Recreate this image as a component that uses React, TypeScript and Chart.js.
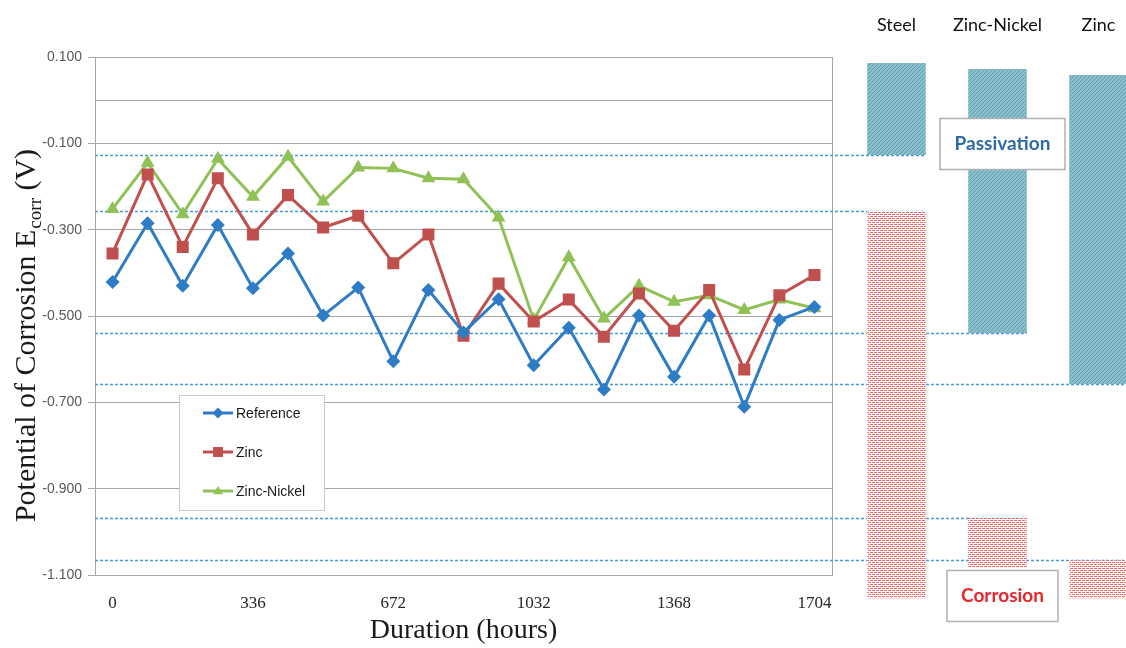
import React, { useEffect, useRef } from 'react';
import { Chart, registerables } from 'chart.js';

Chart.register(...registerables);

// ---------- data ----------
const HOURS = [0, 84, 168, 252, 336, 420, 504, 588, 672, 762, 852, 942, 1032, 1116, 1200, 1284, 1368, 1452, 1536, 1620, 1704];
const X_TICK_LABELS = [0, 336, 672, 1032, 1368, 1704];
const Y_TICKS = [0.1, -0.1, -0.3, -0.5, -0.7, -0.9, -1.1];
const Y_ZERO_LINE = 0;

const REFERENCE = [-0.421, -0.285, -0.430, -0.289, -0.436, -0.355, -0.499, -0.434, -0.605, -0.440, -0.538, -0.461, -0.614, -0.527, -0.670, -0.499, -0.641, -0.499, -0.710, -0.509, -0.479];
const ZINC = [-0.355, -0.172, -0.340, -0.181, -0.311, -0.220, -0.295, -0.268, -0.378, -0.311, -0.546, -0.425, -0.513, -0.462, -0.548, -0.448, -0.534, -0.440, -0.624, -0.452, -0.405];
const ZINC_NICKEL = [-0.252, -0.145, -0.264, -0.136, -0.224, -0.131, -0.235, -0.156, -0.158, -0.181, -0.183, -0.272, -0.509, -0.364, -0.506, -0.430, -0.467, -0.452, -0.486, -0.462, -0.482];

const COATINGS = ['Steel', 'Zinc-Nickel', 'Zinc'];
const PASSIVATION: [number, number][] = [[0.086, -0.127], [0.072, -0.540], [0.058, -0.658]];
const CORROSION: [number, number][] = [[-0.257, -1.154], [-0.968, -1.084], [-1.066, -1.154]];

// ---------- styles ----------
const BLUE = '#2f7cc6';
const RED = '#c0504d';
const GREEN = '#8fc157';
const GRID = '#a6a6a6';
const DASH = '#4a9ad8';

const THRESHOLDS = COATINGS.flatMap((_, i) => [
  { v: PASSIVATION[i][1], i },
  { v: CORROSION[i][0], i },
]);

function drawMarker(ctx: CanvasRenderingContext2D, style: string, x: number, y: number, r: number, color: string) {
  ctx.save();
  ctx.fillStyle = color;
  ctx.beginPath();
  if (style === 'rectRot') {
    ctx.moveTo(x, y - r);
    ctx.lineTo(x + r, y);
    ctx.lineTo(x, y + r);
    ctx.lineTo(x - r, y);
  } else if (style === 'rect') {
    const s = r * Math.SQRT1_2;
    ctx.rect(x - s, y - s, 2 * s, 2 * s);
  } else {
    const h = r * 1.5;
    ctx.moveTo(x, y - h * 0.62);
    ctx.lineTo(x + r * 0.9, y + h * 0.38);
    ctx.lineTo(x - r * 0.9, y + h * 0.38);
  }
  ctx.closePath();
  ctx.fill();
  ctx.restore();
}

function makePattern(kind: 'pass' | 'corr'): CanvasPattern | string {
  const c = document.createElement('canvas');
  c.width = 4;
  c.height = 4;
  const g = c.getContext('2d');
  if (!g) return kind === 'pass' ? '#80b6c5' : '#f8c4c4';
  if (kind === 'pass') {
    g.fillStyle = '#8bbfcc';
    g.fillRect(0, 0, 4, 4);
    g.fillStyle = '#5f9db0';
    for (let i = 0; i < 4; i++) g.fillRect(i, 3 - i, 1, 1);
  } else {
    g.fillStyle = '#ffffff';
    g.fillRect(0, 0, 4, 4);
    g.fillStyle = '#f26b6b';
    g.fillRect(0, 0, 3, 1);
    g.fillRect(2, 2, 3, 1);
    g.fillRect(0, 2, 1, 1);
  }
  return g.createPattern(c, 'repeat') || '#f8c4c4';
}

const leftPlugin = {
  id: 'leftDeco',
  beforeDatasetsDraw(chart: any) {
    const { ctx, chartArea: a, scales } = chart;
    const y = scales.y;
    ctx.save();
    ctx.strokeStyle = GRID;
    ctx.lineWidth = 1;
    ctx.strokeRect(Math.round(a.left) + 0.5, Math.round(a.top) + 0.5, Math.round(a.right - a.left), Math.round(a.bottom - a.top));
    ctx.setLineDash([3, 2]);
    ctx.strokeStyle = DASH;
    ctx.lineWidth = 1.5;
    THRESHOLDS.forEach((t) => {
      const py = Math.round(y.getPixelForValue(t.v)) + 0.5;
      ctx.beginPath();
      ctx.moveTo(a.left, py);
      ctx.lineTo(chart.width, py);
      ctx.stroke();
    });
    ctx.restore();
  },
  afterDraw(chart: any) {
    const { ctx } = chart;
    // legend
    ctx.save();
    ctx.fillStyle = '#ffffff';
    ctx.fillRect(179, 395, 145, 115);
    ctx.strokeStyle = '#c8c8c8';
    ctx.lineWidth = 1;
    ctx.strokeRect(179.5, 395.5, 145, 115);
    chart.data.datasets.forEach((ds: any, i: number) => {
      const yy = 413 + i * 39;
      ctx.strokeStyle = ds.borderColor;
      ctx.lineWidth = 3;
      ctx.beginPath();
      ctx.moveTo(203, yy);
      ctx.lineTo(233, yy);
      ctx.stroke();
      drawMarker(ctx, ds.pointStyle, 218, yy, ds.pointStyle === 'rect' ? 7 : 5.5, ds.backgroundColor);
      ctx.fillStyle = '#1a1a1a';
      ctx.font = '14px "Liberation Sans", Arial, sans-serif';
      ctx.textBaseline = 'middle';
      ctx.textAlign = 'left';
      ctx.fillText(ds.label, 236, yy + 1);
    });
    ctx.restore();

    // y-axis title with subscript
    ctx.save();
    ctx.translate(35, 336);
    ctx.rotate(-Math.PI / 2);
    ctx.fillStyle = '#1a1a1a';
    ctx.textBaseline = 'alphabetic';
    ctx.textAlign = 'left';
    const mainFont = '30px "Liberation Serif", "Times New Roman", serif';
    const subFont = '19px "Liberation Serif", "Times New Roman", serif';
    const t1 = 'Potential of Corrosion E';
    const t2 = 'corr';
    const t3 = ' (V)';
    ctx.font = mainFont;
    const w1 = ctx.measureText(t1).width;
    const w3 = ctx.measureText(t3).width;
    ctx.font = subFont;
    const w2 = ctx.measureText(t2).width;
    let x0 = -(w1 + w2 + w3) / 2;
    ctx.font = mainFont;
    ctx.fillText(t1, x0, 0);
    x0 += w1;
    ctx.font = subFont;
    ctx.fillText(t2, x0 + 1, 6);
    x0 += w2 + 1;
    ctx.font = mainFont;
    ctx.fillText(t3, x0, 0);
    ctx.restore();
  },
};

const rightPlugin = {
  id: 'rightDeco',
  beforeDatasetsDraw(chart: any) {
    const { ctx, scales } = chart;
    const y = scales.y;
    const meta = chart.getDatasetMeta(0);
    ctx.save();
    ctx.setLineDash([3, 2]);
    ctx.strokeStyle = DASH;
    ctx.lineWidth = 1.5;
    THRESHOLDS.forEach((t) => {
      const el = meta.data[t.i];
      const right = el.x + el.width / 2;
      const py = Math.round(y.getPixelForValue(t.v)) + 0.5;
      ctx.beginPath();
      ctx.moveTo(0, py);
      ctx.lineTo(right, py);
      ctx.stroke();
    });
    ctx.restore();
  },
  afterDatasetsDraw(chart: any) {
    const { ctx, scales } = chart;
    const cx = scales.x.getPixelForValue(1) + 5;
    const boxes = [
      { text: 'Passivation', color: '#2e6aa6', yv: -0.1016, w: 125 },
      { text: 'Corrosion', color: '#e8262b', yv: -1.149, w: 111 },
    ];
    ctx.save();
    boxes.forEach((b) => {
      const cy = scales.y.getPixelForValue(b.yv);
      const h = 51;
      ctx.fillStyle = '#ffffff';
      ctx.fillRect(cx - b.w / 2, cy - h / 2, b.w, h);
      ctx.strokeStyle = '#b0b0b0';
      ctx.lineWidth = 1.5;
      ctx.strokeRect(cx - b.w / 2, cy - h / 2, b.w, h);
      ctx.fillStyle = b.color;
      ctx.font = 'bold 19px Lato, "Liberation Sans", sans-serif';
      ctx.textAlign = 'center';
      ctx.textBaseline = 'middle';
      ctx.fillText(b.text, cx, cy);
    });
    ctx.restore();
  },
};

export default function App() {
  const leftRef = useRef<HTMLCanvasElement | null>(null);
  const rightRef = useRef<HTMLCanvasElement | null>(null);

  useEffect(() => {
    if (!leftRef.current || !rightRef.current) return;
    const left = new Chart(leftRef.current, {
      type: 'line',
      data: {
        labels: HOURS.map(String),
        datasets: [
          { label: 'Reference', data: REFERENCE, borderColor: BLUE, backgroundColor: BLUE, pointStyle: 'rectRot', pointRadius: 7, pointBorderWidth: 0, borderWidth: 3, tension: 0 },
          { label: 'Zinc', data: ZINC, borderColor: RED, backgroundColor: RED, pointStyle: 'rect', pointRadius: 8.5, pointBorderWidth: 0, borderWidth: 3, tension: 0 },
          { label: 'Zinc-Nickel', data: ZINC_NICKEL, borderColor: GREEN, backgroundColor: GREEN, pointStyle: 'triangle', pointRadius: 8, pointBorderWidth: 0, borderWidth: 3, tension: 0 },
        ],
      },
      options: {
        animation: false,
        responsive: false,
        events: [],
        layout: { padding: { top: 57, right: 14, left: 0, bottom: 0 } },
        plugins: { legend: { display: false }, tooltip: { enabled: false } },
        scales: {
          x: {
            type: 'category',
            offset: true,
            grid: { display: false },
            border: { display: true, color: GRID },
            ticks: {
              autoSkip: false,
              maxRotation: 0,
              padding: 10,
              color: '#262626',
              font: { family: '"Liberation Serif", serif', size: 17 },
              callback: (_v: any, i: number) => (X_TICK_LABELS.includes(HOURS[i]) ? String(HOURS[i]) : ''),
            },
            title: {
              display: true,
              text: 'Duration (hours)',
              color: '#1a1a1a',
              font: { family: '"Liberation Serif", serif', size: 28 },
              padding: { top: 0, bottom: 1 },
            },
            afterFit: (s: any) => { s.height = 73; },
          },
          y: {
            min: -1.1,
            max: 0.1,
            afterBuildTicks: (s: any) => {
              s.ticks = [...Y_TICKS, Y_ZERO_LINE].sort((a, b) => a - b).map((v) => ({ value: v }));
            },
            grid: {
              color: GRID,
              lineWidth: 1,
              tickLength: 7,
              tickColor: (c: any) => (c.tick && c.tick.value === Y_ZERO_LINE ? 'rgba(0,0,0,0)' : GRID),
            },
            border: { display: true, color: GRID },
            ticks: {
              padding: 6,
              color: '#595959',
              font: { family: '"Liberation Sans", Arial, sans-serif', size: 14 },
              callback: (v: any) => (v === Y_ZERO_LINE ? '' : Number(v).toFixed(3)),
            },
            afterFit: (s: any) => { s.width = 95; },
          },
        },
      } as any,
      plugins: [leftPlugin],
    });

    const right = new Chart(rightRef.current, {
      type: 'bar',
      data: {
        labels: COATINGS,
        datasets: [
          { label: 'Passivation', data: PASSIVATION as any, backgroundColor: makePattern('pass') as any, grouped: false, barPercentage: 0.58, categoryPercentage: 1, borderWidth: 0, clip: false } as any,
          { label: 'Corrosion', data: CORROSION as any, backgroundColor: makePattern('corr') as any, grouped: false, barPercentage: 0.58, categoryPercentage: 1, borderWidth: 0, clip: false } as any,
        ],
      },
      options: {
        animation: false,
        responsive: false,
        events: [],
        layout: { padding: { top: 0, bottom: 30, left: 0, right: 0 } },
        plugins: { legend: { display: false }, tooltip: { enabled: false } },
        scales: {
          x: {
            position: 'top',
            grid: { display: false, drawTicks: false },
            border: { display: false },
            ticks: { padding: 21, color: '#111111', font: { family: 'Lato, "Liberation Sans", sans-serif', size: 18 } },
            afterFit: (s: any) => { s.height = 57; },
          },
          y: { display: false, min: -1.2, max: 0.1 },
        },
      } as any,
      plugins: [rightPlugin],
    });

    return () => {
      left.destroy();
      right.destroy();
    };
  }, []);

  return (
    <div style={{ position: 'fixed', left: 0, top: 0, width: 1126, height: 648, overflow: 'hidden', background: '#ffffff' }}>
      <canvas ref={leftRef} width={846} height={648} style={{ position: 'absolute', left: 0, top: 0 }} />
      <canvas ref={rightRef} width={303} height={648} style={{ position: 'absolute', left: 846, top: 0 }} />
    </div>
  );
}
